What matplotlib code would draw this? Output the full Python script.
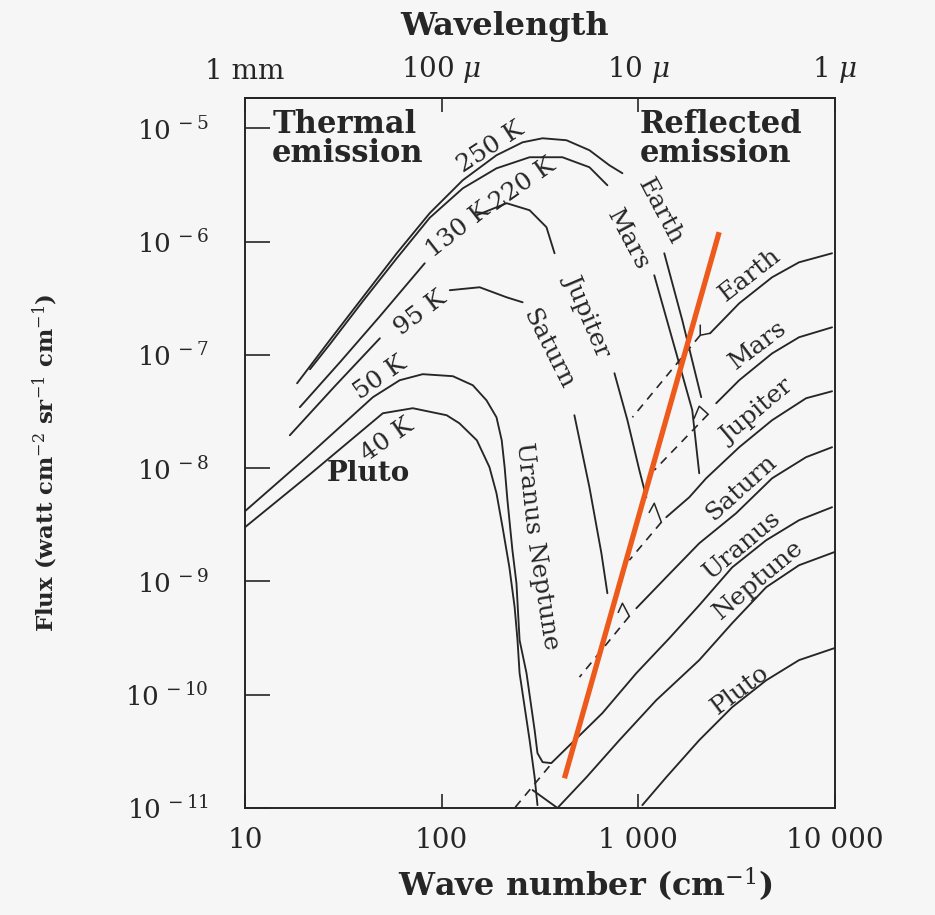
import matplotlib
matplotlib.use("Agg")
import matplotlib.pyplot as plt

# wave number (cm^-1) / flux (watt cm^-2 sr^-1 cm^-1)

# thermal curves, split where the labels sit
t250_nu = [18.4, 27.0, 39.7, 59.1, 86.9, 128, 190, 258, 326, 431, 564, 713, 830]
t250_flux = [5.61e-8, 1.35e-7, 3.22e-7, 7.88e-7, 1.78e-6, 3.48e-6, 5.78e-6,
             7.52e-6, 8.16e-6, 7.84e-6, 6.40e-6, 4.71e-6, 4.01e-6]
earth_tail_nu = [1355, 1673, 2088]
earth_tail_flux = [7.88e-7, 2.02e-7, 4.23e-8]

t220_nu = [21.4, 27.0, 39.7, 59.1, 86.9, 128, 190, 280, 411, 564, 696]
t220_flux = [7.46e-8, 1.24e-7, 2.97e-7, 7.12e-7, 1.62e-6, 2.95e-6, 4.43e-6,
             5.55e-6, 5.55e-6, 4.53e-6, 3.14e-6]
mars_tail_nu = [1205, 1560, 1880, 2040]
mars_tail_flux = [5.04e-7, 1.03e-7, 3.25e-8, 9.01e-9]

t130_nu_a = [19.0, 30.4, 48.5, 82.0]
t130_flux_a = [3.45e-8, 8.61e-8, 2.19e-7, 6.43e-7]
t130_nu_b = [151, 214, 280, 341, 375]
t130_flux_b = [1.71e-6, 2.18e-6, 1.89e-6, 1.34e-6, 7.88e-7]
jupiter_tail_nu = [756, 880, 1012, 1098]
jupiter_tail_flux = [6.88e-8, 2.65e-8, 9.58e-9, 5.53e-9]

t95_nu_a = [16.9, 28.6, 48.5]
t95_flux_a = [1.95e-8, 5.28e-8, 1.40e-7]
t95_nu_b = [110, 156, 214, 258]
t95_flux_b = [3.72e-7, 3.95e-7, 3.22e-7, 2.91e-7]
saturn_tail_nu = [473, 564, 649, 696]
saturn_tail_flux = [2.93e-8, 6.78e-9, 1.77e-9, 7.87e-10]

# Uranus: 50 K thermal running straight into the reflected part
uranus_nu = [10, 20.6, 44.7, 61.2, 80.1, 114, 144, 169, 190, 202, 209, 216,
             229, 240, 249, 270, 297, 307, 326, 361, 447, 656, 977, 1437,
             2040, 3000, 4467, 6564, 9660]
uranus_flux = [4.17e-9, 1.25e-8, 4.23e-8, 5.97e-8, 6.75e-8, 6.48e-8, 5.39e-8,
               3.97e-8, 2.81e-8, 1.76e-8, 1.02e-8, 5.21e-9, 1.88e-9, 9.64e-10,
               3.03e-10, 1.55e-10, 4.86e-11, 3.05e-11, 2.54e-11, 2.49e-11,
               3.58e-11, 6.87e-11, 1.55e-10, 3.15e-10, 6.16e-10, 1.33e-9,
               2.31e-9, 3.47e-9, 4.52e-9]

# Neptune / Pluto 40 K thermal
t40_nu = [10, 21.4, 50.2, 71.3, 106, 123, 151, 175, 190, 204, 221, 235, 243,
          249, 280, 297, 307]
t40_flux = [3.01e-9, 8.83e-9, 3.05e-8, 3.38e-8, 2.93e-8, 2.49e-8, 1.76e-8,
            1.02e-8, 6.0e-9, 3.01e-9, 1.33e-9, 5.92e-10, 3.03e-10, 1.55e-10,
            3.97e-11, 1.87e-11, 1.06e-11]
cross_nu = [290, 388]
cross_flux = [1.44e-11, 1.0e-11]

# reflected sunlight
earth_ref_nu = [2317, 3258, 4789, 6564, 9660]
earth_ref_flux = [1.55e-7, 2.85e-7, 4.84e-7, 6.56e-7, 7.88e-7]
mars_ref_nu = [2488, 3258, 4789, 6564, 9660]
mars_ref_flux = [3.74e-8, 5.97e-8, 1.03e-7, 1.43e-7, 1.75e-7]
jupiter_ref_nu = [1387, 1815, 2213, 3258, 4789, 7129, 9660]
jupiter_ref_flux = [3.69e-9, 5.53e-9, 8.14e-9, 1.53e-8, 2.65e-8, 4.14e-8, 4.77e-8]
saturn_ref_nu = [977, 1387, 2040, 3143, 4789, 7129, 9660]
saturn_ref_flux = [5.80e-10, 1.09e-9, 2.17e-9, 4.0e-9, 8.14e-9, 1.25e-8, 1.53e-8]
neptune_ref_nu = [388, 545, 801, 1233, 2040, 3000, 4467, 6564, 9886]
neptune_ref_flux = [1.0e-11, 1.87e-11, 3.97e-11, 8.94e-11, 2.02e-10, 4.28e-10,
                    8.89e-10, 1.39e-9, 1.81e-9]
pluto_ref_nu = [1048, 1387, 2040, 3000, 4467, 6564, 9886]
pluto_ref_flux = [1.06e-11, 1.87e-11, 3.97e-11, 7.76e-11, 1.34e-10, 2.02e-10, 2.57e-10]

# little junction hooks where thermal tail meets reflected curve
earth_hook_nu = [2065, 2065, 2317]
earth_hook_flux = [1.82e-7, 1.49e-7, 1.55e-7]
mars_hook_nu = [1923, 2040, 2265]
mars_hook_flux = [2.76e-8, 3.52e-8, 2.99e-8]
jupiter_hook_nu = [1137, 1205, 1309]
jupiter_hook_flux = [4.08e-9, 4.90e-9, 3.33e-9]
saturn_hook_nu = [791, 830, 900]
saturn_hook_flux = [5.35e-10, 6.42e-10, 4.93e-10]

# dashed continuations of the reflected curves
earth_dash_nu = [2065, 933]
earth_dash_flux = [1.49e-7, 2.81e-8]
mars_dash_nu = [2265, 1205]
mars_dash_flux = [2.99e-8, 9.58e-9]
jupiter_dash_nu = [1309, 900]
jupiter_dash_flux = [3.33e-9, 1.54e-9]
saturn_dash_nu = [900, 502]
saturn_dash_flux = [4.93e-10, 1.43e-10]
uranus_dash_nu = [353, 235]
uranus_dash_flux = [2.34e-11, 1.0e-11]

# hand-drawn orange line
orange_nu = [421, 2576]
orange_flux = [1.83e-11, 1.21e-6]

x_ticks = [10, 100, 1000, 10000]
x_labels = ["10", "100", "1 000", "10 000"]
top_labels = ["1 mm", r"100 $\mu$", r"10 $\mu$", r"1 $\mu$"]
y_ticks = [1e-11, 1e-10, 1e-9, 1e-8, 1e-7, 1e-6, 1e-5]
y_labels = [r"$10^{\,-11}$", r"$10^{\,-10}$", r"$10^{\,-9}$", r"$10^{\,-8}$",
            r"$10^{\,-7}$", r"$10^{\,-6}$", r"$10^{\,-5}$"]

plt.rcParams["font.family"] = ["DejaVu Serif"]
plt.rcParams["mathtext.fontset"] = "dejavuserif"

bg = "#f6f6f6"
ink = "#262626"

fig = plt.figure(figsize=(9.35, 9.15), dpi=100, facecolor=bg)
ax = fig.add_axes([245 / 935, 1 - 808 / 915, 590 / 935, 710 / 915], facecolor=bg)
ax.set_xscale("log")
ax.set_yscale("log")
ax.set_xlim(10, 10000)
ax.set_ylim(1e-11, 1.85e-5)

solid = dict(color=ink, lw=1.35, solid_capstyle="round")
for nu, fl in [(t250_nu, t250_flux), (earth_tail_nu, earth_tail_flux),
               (t220_nu, t220_flux), (mars_tail_nu, mars_tail_flux),
               (t130_nu_a, t130_flux_a), (t130_nu_b, t130_flux_b),
               (jupiter_tail_nu, jupiter_tail_flux),
               (t95_nu_a, t95_flux_a), (t95_nu_b, t95_flux_b),
               (saturn_tail_nu, saturn_tail_flux),
               (uranus_nu, uranus_flux), (t40_nu, t40_flux),
               (cross_nu, cross_flux),
               (earth_ref_nu, earth_ref_flux), (mars_ref_nu, mars_ref_flux),
               (jupiter_ref_nu, jupiter_ref_flux),
               (saturn_ref_nu, saturn_ref_flux),
               (neptune_ref_nu, neptune_ref_flux),
               (pluto_ref_nu, pluto_ref_flux)]:
    ax.plot(nu, fl, **solid)

for nu, fl in [(earth_hook_nu, earth_hook_flux), (mars_hook_nu, mars_hook_flux),
               (jupiter_hook_nu, jupiter_hook_flux),
               (saturn_hook_nu, saturn_hook_flux)]:
    ax.plot(nu, fl, color=ink, lw=1.1)

for nu, fl in [(earth_dash_nu, earth_dash_flux), (mars_dash_nu, mars_dash_flux),
               (jupiter_dash_nu, jupiter_dash_flux),
               (saturn_dash_nu, saturn_dash_flux),
               (uranus_dash_nu, uranus_dash_flux)]:
    ax.plot(nu, fl, color=ink, lw=1.2, dashes=(5, 4))

ax.plot(orange_nu, orange_flux, color="#ee5a1c", lw=3.8, solid_capstyle="butt")

# ticks
ax.set_xticks(x_ticks, labels=x_labels)
ax.set_yticks(y_ticks, labels=y_labels)
ax.minorticks_off()
ax.tick_params(axis="y", direction="in", length=18, width=1.2, pad=26,
               labelsize=19, colors=ink)
ax.tick_params(axis="x", direction="in", length=10, width=1.2, pad=14,
               labelsize=20, colors=ink)
for s in ax.spines.values():
    s.set_linewidth(1.4)
    s.set_color(ink)

sec = ax.secondary_xaxis("top")
sec.set_xticks(x_ticks, labels=top_labels)
sec.minorticks_off()
sec.tick_params(direction="in", length=10, width=1.2, pad=9, labelsize=20,
                colors=ink)
sec.spines["top"].set_linewidth(1.4)

fig.text(505 / 935, 1 - 27 / 915, "Wavelength", ha="center", va="center",
         fontsize=23, fontweight="bold", color=ink)
fig.text(585 / 935, 1 - 885 / 915, r"Wave number (cm$^{-1}$)", ha="center",
         va="center", fontsize=23, fontweight="bold", color=ink)
fig.text(45 / 935, 1 - 463 / 915,
         r"Flux (watt cm$^{-2}$ sr$^{-1}$ cm$^{-1}$)", rotation=90,
         ha="center", va="center", fontsize=16.5, fontweight="bold", color=ink)

ax.text(0.046, 0.985, "Thermal\nemission", transform=ax.transAxes,
        ha="left", va="top", fontsize=22, fontweight="bold", linespacing=0.92,
        color=ink)
ax.text(0.669, 0.985, "Reflected\nemission", transform=ax.transAxes,
        ha="left", va="top", fontsize=22, fontweight="bold", linespacing=0.92,
        color=ink)

def label(x, y, s, rot, size=18, weight="normal"):
    ax.text((x - 245) / 590, (808 - y) / 710, s, transform=ax.transAxes,
            rotation=rot, rotation_mode="anchor", ha="center", va="center",
            fontsize=size, fontweight=weight, color=ink)

# thermal labels
label(491, 147, "250 K", 33)
label(523, 184, "220 K", 35)
label(458, 230, "130 K", 38)
label(420, 313, "95 K", 37)
label(380, 378, "50 K", 35)
label(387, 440, "40 K", 35)
label(368, 473, "Pluto", 0, size=20, weight="bold")
label(660, 212, "Earth", -62)
label(628, 240, "Mars", -62)
label(588, 315, "Jupiter", -67)
label(548, 350, "Saturn", -63)
label(527, 490, "Uranus", -84)
label(542, 597, "Neptune", -81)

# reflected labels
label(750, 275, "Earth", 38)
label(758, 345, "Mars", 37)
label(757, 412, "Jupiter", 40)
label(742, 487, "Saturn", 42)
label(742, 545, "Uranus", 40)
label(758, 580, "Neptune", 40)
label(740, 690, "Pluto", 37)

fig.savefig("out.png", dpi=100, facecolor=bg)
